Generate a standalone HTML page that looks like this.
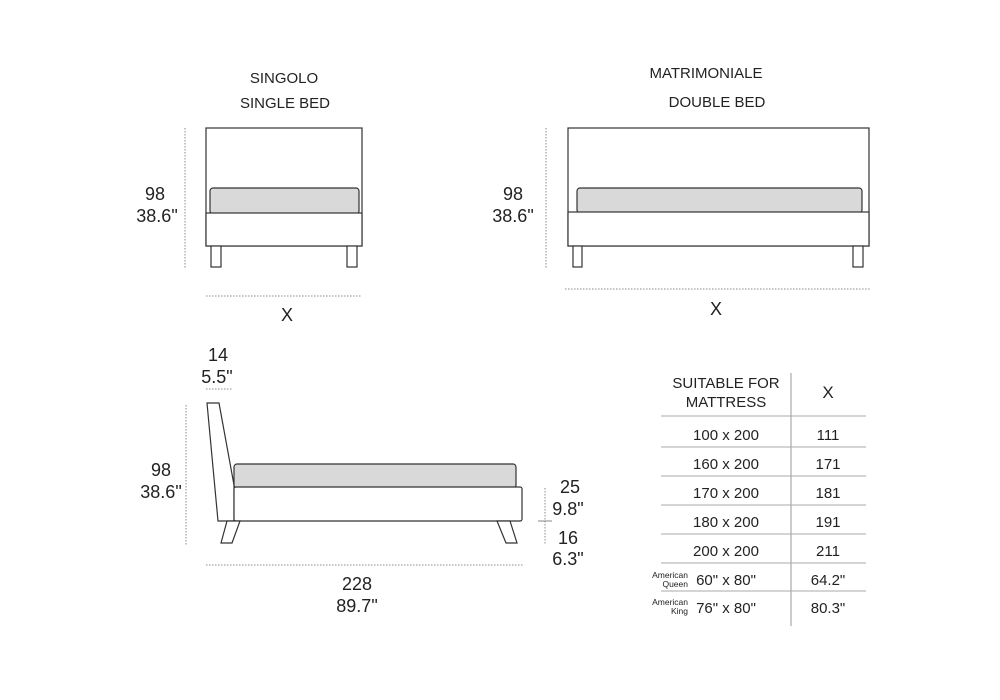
<!DOCTYPE html>
<html><head><meta charset="utf-8"><style>
html,body{margin:0;padding:0;background:#fff}
svg{display:block}
text{font-family:"Liberation Sans",sans-serif;fill:#222}
</style></head><body>
<svg width="1000" height="700" viewBox="0 0 1000 700">
<g font-size="15" text-anchor="middle">
<text x="284" y="83">SINGOLO</text>
<text x="285" y="108">SINGLE BED</text>
<text x="706" y="78">MATRIMONIALE</text>
<text x="717" y="107">DOUBLE BED</text>
</g>
<g stroke="#333" stroke-width="1.2" fill="#fff">
<rect x="206" y="128" width="156" height="118"/>
<rect x="210" y="188" width="149" height="26" rx="3" fill="#d9d9d9"/>
<rect x="206" y="213" width="156" height="33"/>
<rect x="211" y="246" width="10" height="21"/>
<rect x="347" y="246" width="10" height="21"/>
<rect x="568" y="128" width="301" height="118"/>
<rect x="577" y="188" width="285" height="25" rx="3" fill="#d9d9d9"/>
<rect x="568" y="212" width="301" height="34"/>
<rect x="573" y="246" width="9" height="21"/>
<rect x="853" y="246" width="10" height="21"/>
<polygon points="207,403 219,403 234,485 234,521 218,521"/>
<rect x="234" y="464" width="282" height="24" rx="3" fill="#d9d9d9"/>
<rect x="234" y="487" width="288" height="34" rx="2"/>
<polygon points="227,521 240,521 232,543 221,543"/>
<polygon points="497,521 510,521 517,543 506,543"/>
</g>
<g stroke="#888" stroke-width="1" stroke-dasharray="1.5,1.5" fill="none">
<line x1="185" y1="128" x2="185" y2="268"/>
<line x1="206" y1="296" x2="361" y2="296"/>
<line x1="546" y1="128" x2="546" y2="268"/>
<line x1="565" y1="289" x2="870" y2="289"/>
<line x1="186" y1="405" x2="186" y2="545"/>
<line x1="206" y1="565" x2="523" y2="565"/>
<line x1="206" y1="389" x2="232" y2="389"/>
<line x1="545" y1="488" x2="545" y2="545"/>
</g>
<line x1="538" y1="521" x2="552" y2="521" stroke="#888" stroke-width="1"/>
<g font-size="18" text-anchor="middle">
<text x="287" y="321">X</text>
<text x="716" y="315">X</text>
<text x="155" y="200">98</text>
<text x="157" y="222">38.6"</text>
<text x="513" y="200">98</text>
<text x="513" y="222">38.6"</text>
<text x="218" y="361">14</text>
<text x="217" y="383">5.5"</text>
<text x="161" y="476">98</text>
<text x="161" y="498">38.6"</text>
<text x="357" y="590">228</text>
<text x="357" y="612">89.7"</text>
<text x="570" y="493">25</text>
<text x="568" y="515">9.8"</text>
<text x="568" y="544">16</text>
<text x="568" y="565">6.3"</text>
</g>
<line x1="791" y1="373" x2="791" y2="626" stroke="#999" stroke-width="1"/>
<g stroke="#aaa" stroke-width="1">
<line x1="661" y1="416" x2="866" y2="416"/>
<line x1="661" y1="447" x2="866" y2="447"/>
<line x1="661" y1="476" x2="866" y2="476"/>
<line x1="661" y1="505" x2="866" y2="505"/>
<line x1="661" y1="534" x2="866" y2="534"/>
<line x1="661" y1="563" x2="866" y2="563"/>
<line x1="661" y1="591" x2="866" y2="591"/>
</g>
<g font-size="15" text-anchor="middle">
<text x="726" y="388">SUITABLE FOR</text>
<text x="726" y="407">MATTRESS</text>
<text x="828" y="398" font-size="17">X</text>
<text x="726" y="440">100 x 200</text><text x="828" y="440">111</text>
<text x="726" y="469">160 x 200</text><text x="828" y="469">171</text>
<text x="726" y="498">170 x 200</text><text x="828" y="498">181</text>
<text x="726" y="527">180 x 200</text><text x="828" y="527">191</text>
<text x="726" y="556">200 x 200</text><text x="828" y="556">211</text>
<text x="726" y="585">60" x 80"</text><text x="828" y="585">64.2"</text>
<text x="726" y="613">76" x 80"</text><text x="828" y="613">80.3"</text>
</g>
<g font-size="8.5" text-anchor="end">
<text x="688" y="578">American</text>
<text x="688" y="587">Queen</text>
<text x="688" y="605">American</text>
<text x="688" y="614">King</text>
</g>
</svg>
</body></html>
